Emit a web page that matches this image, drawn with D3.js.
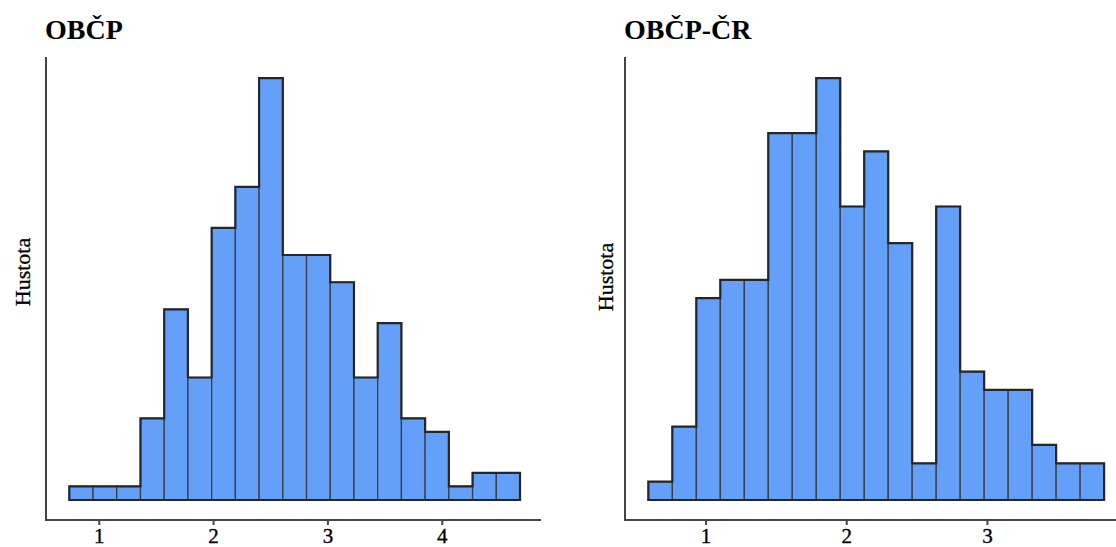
<!DOCTYPE html>
<html>
<head>
<meta charset="utf-8">
<script src="https://cdn.jsdelivr.net/npm/d3@7"></script>
<style>
  body { margin: 0; background: #fff; }
  svg { display: block; font-family: "Liberation Serif", "DejaVu Serif", serif; }
  .title { font-weight: bold; font-size: 28px; fill: #000; }
  .ylabel { font-size: 22px; fill: #000; stroke: #000; stroke-width: 0.3px; }
  .tick-label { font-size: 21px; fill: #000; stroke: #000; stroke-width: 0.35px; }
</style>
</head>
<body>
<div id="chart"></div>
<script>
// OBČP histogram
var obcpCounts = [1, 1, 1, 6, 14, 9, 20, 23, 31, 18, 18, 16, 9, 13, 6, 5, 1, 2, 2];
var obcpBinStart = 0.738;
var obcpBinWidth = 0.2075;
var obcpTicks = [1, 2, 3, 4];

// OBČP-ČR histogram
var obcpcrCounts = [1, 4, 11, 12, 12, 20, 20, 23, 16, 19, 14, 2, 16, 7, 6, 6, 3, 2, 2];
var obcpcrBinStart = 0.590;
var obcpcrBinWidth = 0.1705;
var obcpcrTicks = [1, 2, 3];

var CONFIG = {
  width: 1116,
  height: 547,
  axisY: 520,
  barBottom: 500,
  top: 57,
  fill: "#64a0fa"
};

var svg = d3.select("#chart").append("svg")
  .attr("width", CONFIG.width)
  .attr("height", CONFIG.height);

function panel(opts) {
  var g = svg.append("g");

  var x = d3.scaleLinear()
    .domain(opts.domain)
    .range([opts.left, opts.right]);

  var maxCount = d3.max(opts.counts);
  var y = d3.scaleLinear()
    .domain([0, maxCount * 1.05])
    .range([CONFIG.barBottom, CONFIG.top]);

  var bins = opts.counts.map((c, i) => ({
    x0: opts.start + i * opts.width,
    x1: opts.start + (i + 1) * opts.width,
    count: c
  }));

  // bars
  g.append("g")
    .selectAll("rect")
    .data(bins)
    .enter().append("rect")
    .attr("x", d => x(d.x0))
    .attr("y", d => y(d.count))
    .attr("width", d => x(d.x1) - x(d.x0))
    .attr("height", d => y(0) - y(d.count))
    .attr("fill", CONFIG.fill)
    .attr("stroke", "#3a3e46")
    .attr("stroke-width", 1.3);

  // outer outline of the histogram
  var pts = [[x(bins[0].x0), y(0)]];
  bins.forEach(d => {
    pts.push([x(d.x0), y(d.count)]);
    pts.push([x(d.x1), y(d.count)]);
  });
  pts.push([x(bins[bins.length - 1].x1), y(0)]);

  g.append("path")
    .attr("d", d3.line()(pts) + "Z")
    .attr("fill", "none")
    .attr("stroke", "#262626")
    .attr("stroke-width", 2.2)
    .attr("stroke-linejoin", "miter");

  // axes
  g.append("line")
    .attr("x1", opts.left).attr("x2", opts.left)
    .attr("y1", CONFIG.top).attr("y2", CONFIG.axisY)
    .attr("stroke", "#444").attr("stroke-width", 2);

  g.append("line")
    .attr("x1", opts.left - 1).attr("x2", opts.right)
    .attr("y1", CONFIG.axisY).attr("y2", CONFIG.axisY)
    .attr("stroke", "#444").attr("stroke-width", 2);

  var ticks = g.append("g")
    .selectAll("g")
    .data(opts.ticks)
    .enter().append("g")
    .attr("transform", d => "translate(" + x(d) + "," + CONFIG.axisY + ")");

  ticks.append("line")
    .attr("y1", 0).attr("y2", 5)
    .attr("stroke", "#444").attr("stroke-width", 2);

  ticks.append("text")
    .classed("tick-label", true)
    .attr("y", 23)
    .attr("text-anchor", "middle")
    .text(d => d);

  // titles
  svg.append("text")
    .classed("title", true)
    .attr("x", opts.left - 1)
    .attr("y", 39)
    .text(opts.title);

  svg.append("text")
    .classed("ylabel", true)
    .attr("transform", "translate(" + opts.labelX + "," + opts.labelY + ") rotate(-90)")
    .attr("text-anchor", "middle")
    .text("Hustota");
}

panel({
  title: "OBČP",
  counts: obcpCounts,
  start: obcpBinStart,
  width: obcpBinWidth,
  ticks: obcpTicks,
  domain: [0.534, 4.864],
  left: 46,
  right: 541,
  labelX: 30,
  labelY: 272
});

panel({
  title: "OBČP-ČR",
  counts: obcpcrCounts,
  start: obcpcrBinStart,
  width: obcpcrBinWidth,
  ticks: obcpcrTicks,
  domain: [0.424, 3.914],
  left: 625,
  right: 1116,
  labelX: 613,
  labelY: 277
});
</script>
</body>
</html>
